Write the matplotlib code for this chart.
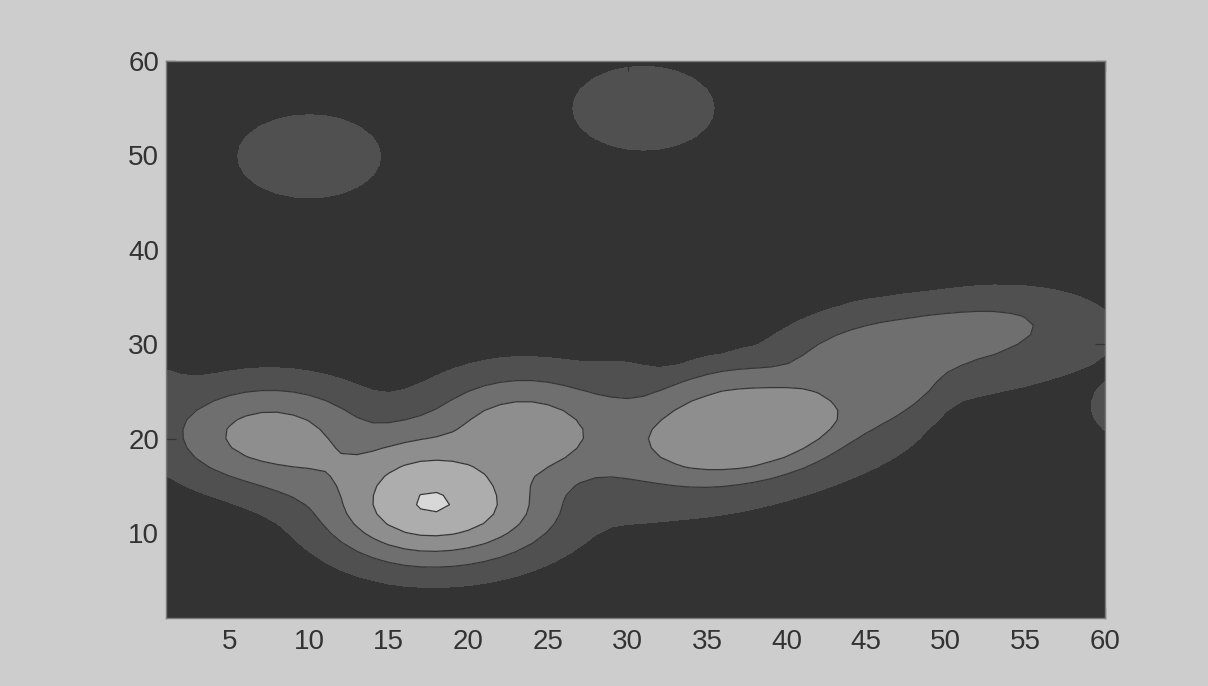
import numpy as np
import matplotlib
matplotlib.use("Agg")
import matplotlib.pyplot as plt
from matplotlib import font_manager

# Sample grid (1..60 in both directions)
x_vals = np.arange(1, 61)
y_vals = np.arange(1, 61)

# Surface components: centre, height, tilt, one-sided spreads, profile sharpness
bump_x = [17.7, 7.5, 23.5, 37.3, 45.3, 50.0, 52.0, -1.0, 61.5, 10.0, 31.0, 11.0, 29.5, 38.0]
bump_y = [13.1, 20.4, 20.5, 20.7, 26.0, 30.2, 30.0, 23.5, 23.2, 49.9, 55.0, 17.2, 20.2, 17.0]
bump_amp = [5.1, 3.45, 3.8, 3.4, 2.5, 2.4, 1.5, 1.6, 1.35, 1.5, 1.5, 2.75, 2.3, 1.4]
bump_ang = [0, 0, 0, 25, 55, 20, 12, 0, 0, 0, 0, -35, 0, 25]
spread_u_neg = [5.2, 5.15, 5.0, 7.9, 7.5, 8.0, 16.0, 4.0, 3.0, 5.0, 4.94, 5.5, 3.5, 12.0]
spread_u_pos = [5.9, 5.15, 5.0, 7.4, 7.5, 7.0, 10.0, 4.0, 3.0, 5.0, 4.94, 5.5, 3.5, 14.0]
spread_v_neg = [4.9, 4.5, 5.0, 5.0, 4.3, 2.9, 5.5, 4.5, 4.0, 4.9, 4.94, 4.5, 6.0, 5.0]
spread_v_pos = [6.5, 4.5, 5.0, 6.4, 6.0, 3.5, 6.8, 4.5, 4.0, 4.9, 4.94, 4.5, 6.0, 5.0]
bump_q = [2, 2, 2, 4, 4, 4, 2, 2, 2, 2, 2, 2, 2, 2]

contour_levels = [1, 2, 3, 4, 5]
band_colors = ["#333333", "#505050", "#6f6f6f", "#8e8e8e", "#adadad", "#d8d8d8"]

x_ticks = list(range(5, 61, 5))
y_ticks = list(range(10, 61, 10))


def surface(X, Y, p=4.0):
    acc = np.zeros_like(X, dtype=float)
    for i in range(len(bump_x)):
        t = np.deg2rad(bump_ang[i])
        dx, dy = X - bump_x[i], Y - bump_y[i]
        u = dx * np.cos(t) + dy * np.sin(t)
        v = -dx * np.sin(t) + dy * np.cos(t)
        su = np.where(u < 0, spread_u_neg[i], spread_u_pos[i])
        sv = np.where(v < 0, spread_v_neg[i], spread_v_pos[i])
        r2 = (u / su) ** 2 + (v / sv) ** 2
        g = bump_amp[i] * np.exp(-0.5 * r2 ** (bump_q[i] / 2.0))
        acc += g ** p
    return acc ** (1.0 / p)


X, Y = np.meshgrid(x_vals, y_vals)
Z = surface(X, Y)

names = {f.name for f in font_manager.fontManager.ttflist}
fam = ["Liberation Sans Narrow"] if "Liberation Sans Narrow" in names else []
plt.rcParams["font.family"] = fam + ["Liberation Sans", "DejaVu Sans"]

fig = plt.figure(figsize=(12.08, 6.86), dpi=100, facecolor="#cdcdcd")
ax = fig.add_axes([166 / 1208, 68 / 686, (1105 - 166) / 1208, (618 - 61) / 686])

fill_levels = [-1] + contour_levels + [100]
ax.contourf(X, Y, Z, levels=fill_levels, colors=band_colors)
ax.contour(X, Y, Z, levels=contour_levels[1:], colors="#363636", linewidths=0.9)

ax.set_xlim(1, 60)
ax.set_ylim(1, 60)
ax.set_xticks(x_ticks)
ax.set_yticks(y_ticks)
ax.tick_params(direction="in", length=7, width=0.9, color="#333333",
               labelcolor="#333333", labelsize=20, top=True, right=True)
ax.tick_params(axis="x", pad=8)
ax.tick_params(axis="y", pad=5)
for s in ax.spines.values():
    s.set_color("#7a7a7a")
    s.set_linewidth(1.0)

fig.savefig("out.png", dpi=100, facecolor=fig.get_facecolor())
